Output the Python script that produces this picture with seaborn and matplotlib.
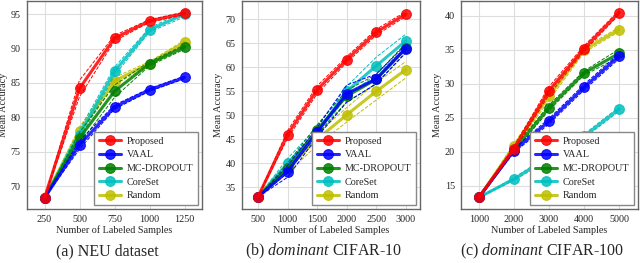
import matplotlib
matplotlib.use("Agg")
import matplotlib.pyplot as plt
import pandas as pd
import seaborn as sns

METHODS = ["Proposed", "VAAL", "MC-DROPOUT", "CoreSet", "Random"]
COLORS = ["#ff0000", "#0000ff", "#008000", "#00bfbf", "#bfbf00"]

# (a) NEU dataset
NEU_X = [250, 500, 750, 1000, 1250]
NEU_MEAN = {
    "Proposed": [68.3, 84.2, 91.5, 94.0, 95.1],
    "VAAL": [68.3, 76.0, 81.5, 84.0, 85.8],
    "MC-DROPOUT": [68.3, 77.0, 83.8, 87.8, 90.2],
    "CoreSet": [68.3, 77.5, 86.7, 92.7, 95.0],
    "Random": [68.3, 78.0, 85.3, 87.8, 90.9],
}
NEU_STD = {
    "Proposed": [0.0, 1.2, 0.4, 0.2, 0.2],
    "VAAL": [0.0, 0.6, 0.3, 0.2, 0.2],
    "MC-DROPOUT": [0.0, 0.8, 0.9, 0.3, 0.3],
    "CoreSet": [0.0, 0.7, 0.6, 0.3, 0.4],
    "Random": [0.0, 0.6, 0.5, 0.3, 0.3],
}

# (b) dominant CIFAR-10
C10_X = [500, 1000, 1500, 2000, 2500, 3000]
C10_MEAN = {
    "Proposed": [33.0, 46.0, 55.3, 61.6, 67.3, 71.1],
    "VAAL": [33.0, 38.3, 46.5, 54.5, 57.6, 63.9],
    "MC-DROPOUT": [33.0, 39.0, 47.0, 54.0, 57.5, 64.0],
    "CoreSet": [33.0, 40.0, 46.5, 55.0, 60.3, 65.5],
    "Random": [33.0, 39.0, 45.0, 50.1, 55.0, 59.5],
}
C10_STD = {
    "Proposed": [0.0, 0.8, 0.8, 0.6, 0.6, 0.5],
    "VAAL": [0.0, 1.2, 1.0, 1.8, 1.0, 0.8],
    "MC-DROPOUT": [0.0, 1.0, 1.0, 1.2, 1.0, 1.0],
    "CoreSet": [0.0, 1.0, 1.0, 1.0, 1.8, 1.4],
    "Random": [0.0, 1.0, 1.2, 1.5, 1.8, 1.7],
}

# (c) dominant CIFAR-100
C100_X = [1000, 2000, 3000, 4000, 5000]
C100_MEAN = {
    "Proposed": [13.3, 20.5, 29.0, 35.2, 40.5],
    "VAAL": [13.3, 20.2, 24.5, 29.5, 34.1],
    "MC-DROPOUT": [13.3, 20.3, 26.5, 31.6, 34.5],
    "CoreSet": [13.3, 16.0, 19.2, 22.3, 26.3],
    "Random": [13.3, 20.8, 28.2, 35.0, 38.0],
}
C100_STD = {
    "Proposed": [0.0, 0.3, 0.6, 0.4, 0.3],
    "VAAL": [0.0, 0.3, 0.4, 0.4, 0.4],
    "MC-DROPOUT": [0.0, 0.3, 0.4, 0.3, 0.6],
    "CoreSet": [0.0, 0.2, 0.3, 0.3, 0.3],
    "Random": [0.0, 0.4, 0.6, 0.4, 0.3],
}

CAPTIONS = ["(a) NEU dataset", r"(b) $\mathit{dominant}$ CIFAR-10",
            r"(c) $\mathit{dominant}$ CIFAR-100"]


def long_frame(xs, means, stds):
    rows = []
    for m in METHODS:
        for x, mu, sd in zip(xs, means[m], stds[m]):
            rows.append({"samples": x, "acc": mu, "lo": mu - sd, "hi": mu + sd, "method": m})
    return pd.DataFrame(rows)


def draw_panel(ax, df, xticks, xlim, ylim, yticks):
    for m, c in reversed(list(zip(METHODS, COLORS))):
        sub = df[df["method"] == m]
        for col in ("lo", "hi"):
            sns.lineplot(data=sub, x="samples", y=col, color=c, ax=ax, lw=0.7,
                         linestyle="--", estimator=None, legend=False)
        sns.lineplot(data=sub, x="samples", y="acc", color=c, ax=ax, lw=2.2,
                     marker="o", markersize=7, markeredgewidth=0.8,
                     markeredgecolor=c, alpha=0.85, estimator=None, label=m)
    handles, labels = ax.get_legend_handles_labels()
    order = [labels.index(m) for m in METHODS]
    ax.legend([handles[i] for i in order], METHODS, loc="lower right",
              fontsize=7.3, handlelength=2.1, handletextpad=0.6, borderpad=0.5,
              labelspacing=0.45, borderaxespad=0.35, fancybox=False,
              edgecolor="#888888", framealpha=1)
    ax.set_xticks(xticks)
    ax.set_xlim(xlim)
    ax.set_ylim(ylim)
    ax.set_yticks(yticks)
    ax.set_xlabel("Number of Labeled Samples", fontsize=7.3, labelpad=1)
    ax.set_ylabel("Mean Accuracy", fontsize=7.3, labelpad=2)
    ax.tick_params(labelsize=7.3, length=2.5, pad=2, color="#555555")
    ax.grid(True, color="#dddddd", lw=0.8)
    for s in ax.spines.values():
        s.set_color("#666666")
        s.set_linewidth(1.0)


def main():
    sns.set_style("white")
    plt.rcParams["font.family"] = ["Liberation Serif", "DejaVu Serif"]
    plt.rcParams["mathtext.fontset"] = "custom"
    plt.rcParams["mathtext.rm"] = "Liberation Serif"
    plt.rcParams["mathtext.it"] = "Liberation Serif:italic"

    fig = plt.figure(figsize=(6.4, 2.63), dpi=100)
    axes = [
        fig.add_axes([27 / 640, 54 / 263, 175 / 640, 208 / 263]),
        fig.add_axes([242 / 640, 54 / 263, 178 / 640, 208 / 263]),
        fig.add_axes([461 / 640, 54 / 263, 177 / 640, 208 / 263]),
    ]

    draw_panel(axes[0], long_frame(NEU_X, NEU_MEAN, NEU_STD), NEU_X,
               (125, 1375), (66.7, 96.9), [70, 75, 80, 85, 90, 95])
    draw_panel(axes[1], long_frame(C10_X, C10_MEAN, C10_STD), C10_X,
               (230, 3240), (30.5, 73.8), [35, 40, 45, 50, 55, 60, 65, 70])
    draw_panel(axes[2], long_frame(C100_X, C100_MEAN, C100_STD), C100_X,
               (490, 5540), (11.6, 42.2), [15, 20, 25, 30, 35, 40])

    for ax, cap in zip(axes, CAPTIONS):
        pos = ax.get_position()
        fig.text((pos.x0 + pos.x1) / 2 - 0.012, 12 / 263, cap, ha="center",
                 va="center", fontsize=11.5)

    fig.savefig("out.png", dpi=100)
    plt.close(fig)


if __name__ == "__main__":
    main()
